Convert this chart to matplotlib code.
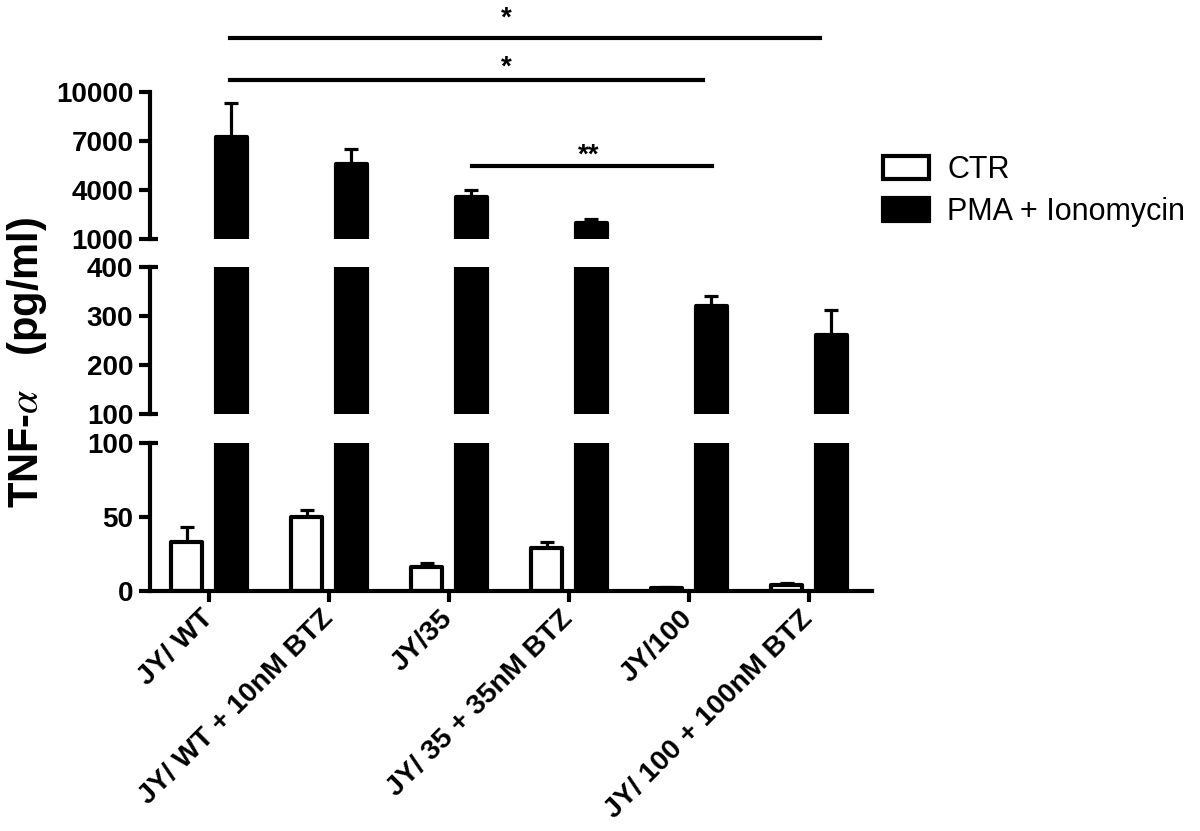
import numpy as np
import matplotlib
matplotlib.use("Agg")
import matplotlib.pyplot as plt
import matplotlib.transforms as mtransforms
from matplotlib.lines import Line2D

plt.rcParams['font.family'] = ['Liberation Sans', 'DejaVu Sans']
plt.rcParams['mathtext.fontset'] = 'stix'

groups = ["JY/ WT", "JY/ WT + 10nM BTZ", "JY/35", "JY/ 35 + 35nM BTZ",
          "JY/100", "JY/ 100 + 100nM BTZ"]
ctr = [33, 50, 16, 29, 2, 4]
ctr_err = [10, 5, 3, 4, 0.5, 1.5]
pma = [7250, 5590, 3570, 1980, 320, 261]
pma_err = [2080, 920, 430, 250, 21, 51]

# broken y axis segments (top, middle, bottom)
seg_lims = [(1000, 10000), (100, 400), (0, 100)]
seg_ticks = [[1000, 4000, 7000, 10000], [100, 200, 300, 400], [0, 50, 100]]

# significance brackets: x start, x end, star x, line y px, star baseline px, label
sig = [(0.175, 5.09, 2.48, 38, 26, "*"),
       (0.175, 4.117, 2.48, 80, 75, "*"),
       (2.19, 4.19, 3.16, 166, 163, "**")]

W, H = 1200, 831
fig = plt.figure(figsize=(12, 8.31), dpi=100)

left = 150 / W
width = 722 / W
seg_px = [(92, 239), (267, 414), (443, 591)]

x = np.arange(len(groups))
off = 0.187
bw = 0.258
lw = 3

axes = []
for (ytop, ybot), lims, ticks in zip(seg_px, seg_lims, seg_ticks):
    ax = fig.add_axes([left, 1 - ybot / H, width, (ybot - ytop) / H])
    axes.append(ax)
    b1 = ax.bar(x - off, ctr, bw, color='white', edgecolor='black', linewidth=lw,
                joinstyle='round', zorder=2)
    b2 = ax.bar(x + off, pma, bw, color='black', edgecolor='black', linewidth=lw,
                joinstyle='round', zorder=2)
    ax.errorbar(x - off, ctr, yerr=[np.zeros(len(ctr)), ctr_err], fmt='none',
                ecolor='black', elinewidth=2.3, capsize=4.8, capthick=2.3, zorder=1)
    ax.errorbar(x + off, pma, yerr=[np.zeros(len(pma)), pma_err], fmt='none',
                ecolor='black', elinewidth=2.3, capsize=4.8, capthick=2.3, zorder=1)
    ax.set_ylim(*lims)
    ax.set_xlim(-0.492, 5.525)
    ax.set_yticks(ticks)
    ax.set_yticklabels([str(t) for t in ticks], fontsize=20, fontweight='bold')
    ax.tick_params(axis='y', length=8, width=3, pad=4)
    for s in ['top', 'right', 'bottom']:
        ax.spines[s].set_visible(False)
    ax.spines['left'].set_linewidth(3)
    ax.patch.set_alpha(0)
    if lims != seg_lims[-1]:
        ax.set_xticks([])

# break caps on segment ends
capx = 8 / 722
for i, ax in enumerate(axes):
    tr = mtransforms.blended_transform_factory(ax.transAxes, ax.transData)
    lo, hi = seg_lims[i]
    ends = [lo, hi] if i == 1 else ([lo] if i == 0 else [hi])
    for yv in ends:
        ax.plot([0, capx], [yv, yv], color='black', lw=3, transform=tr,
                clip_on=False, solid_capstyle='butt')

axb = axes[-1]
axb.spines['bottom'].set_visible(True)
axb.spines['bottom'].set_linewidth(3)
axb.set_xticks(x)
axb.set_xticklabels(groups, fontsize=20.5, fontweight='bold', rotation=45,
                    ha='right', va='center', rotation_mode='anchor')
axb.tick_params(axis='x', length=8, width=3, pad=9)

fig.text(27 / W, 1 - 362 / H, "TNF-$\\alpha$   (pg/ml)", rotation=90,
         fontsize=30, fontweight='bold', ha='center', va='center')

# significance lines
axt = axes[0]
tr = mtransforms.blended_transform_factory(axt.transData, fig.transFigure)
for x0, x1, sx, ly, sy, lab in sig:
    fig.add_artist(Line2D([x0, x1], [1 - ly / H, 1 - ly / H], color='black',
                          lw=3, transform=tr))
    fig.text(sx, 1 - sy / H, lab, transform=tr, fontsize=20, fontweight='bold',
             ha='center', va='baseline')

fig.legend([b1, b2], ["CTR", "PMA + Ionomycin"], loc='upper left',
           bbox_to_anchor=(883 / W, 1 - 155 / H), frameon=False, fontsize=22,
           handlelength=1.5, handleheight=0.75, handletextpad=0.6,
           labelspacing=0.4, borderpad=0, borderaxespad=0)

fig.savefig("out.png", dpi=100)
